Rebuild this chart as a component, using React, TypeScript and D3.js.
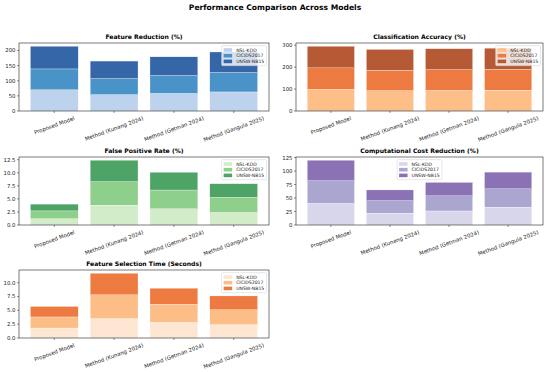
import React, { useEffect, useRef } from "react";
import * as d3 from "d3";

const models = ["Proposed Model", "Method (Kunang 2024)", "Method (Getman 2024)", "Method (Gangula 2025)"];
const datasets = ["NSL-KDD", "CICIDS2017", "UNSW-NB15"];

// values per dataset, in model order
const featReductionNSL = [70, 54, 58, 63];
const featReductionCIC = [69, 53, 59, 64];
const featReductionUNSW = [75, 58, 62, 68];

const accuracyNSL = [98.5, 92.5, 93.5, 95.0];
const accuracyCIC = [97.8, 93.0, 94.5, 95.0];
const accuracyUNSW = [98.5, 95.0, 95.5, 96.0];

const fprNSL = [1.2, 3.8, 3.1, 2.4];
const fprCIC = [1.5, 4.5, 3.6, 2.9];
const fprUNSW = [1.3, 4.1, 3.4, 2.6];

const costNSL = [40, 22, 26, 33];
const costCIC = [42, 23, 28, 34];
const costUNSW = [38, 20, 25, 31];

const fstNSL = [1.8, 3.5, 2.8, 2.4];
const fstCIC = [2.0, 4.3, 3.3, 2.7];
const fstUNSW = [1.9, 3.9, 2.9, 2.5];

const featReductionTicks = [0, 50, 100, 150, 200];
const accuracyTicks = [0, 100, 200, 300];
const fprTicks = [0, 2.5, 5, 7.5, 10, 12.5];
const costTicks = [0, 25, 50, 75, 100, 125];
const fstTicks = [0, 2.5, 5, 7.5, 10];

const panels = [
  { title: "Feature Reduction (%)", series: [featReductionNSL, featReductionCIC, featReductionUNSW], ticks: featReductionTicks, fmt: "d", colors: ["#bdd2ec", "#4a93c8", "#3466a8"], legend: "right" },
  { title: "Classification Accuracy (%)", series: [accuracyNSL, accuracyCIC, accuracyUNSW], ticks: accuracyTicks, fmt: "d", colors: ["#fdbe88", "#ec7a41", "#b65a35"], legend: "right" },
  { title: "False Positive Rate (%)", series: [fprNSL, fprCIC, fprUNSW], ticks: fprTicks, fmt: ".1f", colors: ["#d2ecca", "#8fcf8c", "#4ea466"], legend: "right" },
  { title: "Computational Cost Reduction (%)", series: [costNSL, costCIC, costUNSW], ticks: costTicks, fmt: "d", colors: ["#d8d6ea", "#aaa6d0", "#8a72b5"], legend: "center" },
  { title: "Feature Selection Time (Seconds)", series: [fstNSL, fstCIC, fstUNSW], ticks: fstTicks, fmt: ".1f", colors: ["#fde6d2", "#fdbd86", "#ec7a41"], legend: "right" },
];

const colsX = [[19, 269], [296, 543]];
const rowsY = [[43, 111], [157, 225], [270, 338]];
const FONT = "DejaVu Sans";
const ROT = 20;

export default function App() {
  const ref = useRef<SVGSVGElement>(null);

  useEffect(() => {
    const svg = d3.select(ref.current);
    svg.selectAll("*").remove();

    svg.append("text")
      .attr("x", 275).attr("y", 10)
      .attr("text-anchor", "middle")
      .attr("font-family", FONT).attr("font-weight", "bold").attr("font-size", 7.6)
      .text("Performance Comparison Across Models");

    panels.forEach((p, i) => {
      const [x0, x1] = colsX[i % 2];
      const [y0, y1] = rowsY[Math.floor(i / 2)];
      const table = models.map((m, j) => {
        const row: any = { model: m };
        datasets.forEach((ds, k) => (row[ds] = p.series[k][j]));
        return row;
      });
      const stacked = d3.stack().keys(datasets)(table);
      const maxTotal = d3.max(stacked[stacked.length - 1], (d) => d[1]) as number;

      const x = d3.scaleLinear().domain([-0.59, 3.59]).range([x0, x1]);
      const y = d3.scaleLinear().domain([0, maxTotal * 1.05]).range([y1, y0]);
      const bw = x(0.4) - x(-0.4);
      const g = svg.append("g");

      stacked.forEach((layer, k) => {
        g.selectAll(null).data(layer).join("rect")
          .attr("x", (d, j) => x(j) - bw / 2)
          .attr("width", bw)
          .attr("y", (d) => y(d[1]))
          .attr("height", (d) => y(d[0]) - y(d[1]))
          .attr("fill", p.colors[k])
          .attr("stroke", "#fff").attr("stroke-width", 0.3);
      });

      g.append("rect")
        .attr("x", x0).attr("y", y0).attr("width", x1 - x0).attr("height", y1 - y0)
        .attr("fill", "none").attr("stroke", "#222").attr("stroke-width", 0.6);

      const f = d3.format(p.fmt);
      p.ticks.forEach((t) => {
        g.append("line").attr("x1", x0 - 2).attr("x2", x0).attr("y1", y(t)).attr("y2", y(t))
          .attr("stroke", "#222").attr("stroke-width", 0.5);
        g.append("text").attr("x", x0 - 3.5).attr("y", y(t))
          .attr("text-anchor", "end").attr("dominant-baseline", "central")
          .attr("font-family", FONT).attr("font-size", 5.4).attr("fill", "#222")
          .text(f(t));
      });

      const rad = (ROT * Math.PI) / 180;
      models.forEach((m, j) => {
        g.append("line").attr("x1", x(j)).attr("x2", x(j)).attr("y1", y1).attr("y2", y1 + 2)
          .attr("stroke", "#222").attr("stroke-width", 0.5);
        const t = g.append("text")
          .attr("text-anchor", "middle").attr("dominant-baseline", "central")
          .attr("font-family", FONT).attr("font-size", 5.4).attr("fill", "#222")
          .text(m);
        const L = (t.node() as SVGTextElement).getComputedTextLength();
        const H = L * Math.sin(rad) + 5.4 * 1.16 * Math.cos(rad);
        const cy = y1 + 4 + H / 2;
        t.attr("x", x(j)).attr("y", cy).attr("transform", `rotate(${-ROT},${x(j)},${cy})`);
      });

      g.append("text")
        .attr("x", (x0 + x1) / 2).attr("y", y0 - 3.6)
        .attr("text-anchor", "middle")
        .attr("font-family", FONT).attr("font-weight", "bold").attr("font-size", 6.1)
        .text(p.title);

      // legend
      const lg = g.append("g");
      const box = lg.append("rect");
      let maxW = 0;
      const labels = datasets.map((ds) => {
        const tt = lg.append("text")
          .attr("dominant-baseline", "central")
          .attr("font-family", FONT).attr("font-size", 4.6).attr("fill", "#222")
          .text(ds);
        maxW = Math.max(maxW, (tt.node() as SVGTextElement).getComputedTextLength());
        return tt;
      });
      const lw = 2 + 8.5 + 4 + maxW + 2.2;
      const lh = 20;
      const lx = p.legend === "center" ? (x0 + x1) / 2 - lw / 2 : x1 - 2.5 - lw;
      const ly = y0 + 2.7;
      box.attr("x", lx).attr("y", ly).attr("width", lw).attr("height", lh).attr("rx", 1)
        .attr("fill", "#fff").attr("fill-opacity", 0.8).attr("stroke", "#d0d0d0").attr("stroke-width", 0.5);
      labels.forEach((tt, k) => {
        const cy = ly + 4.3 + k * 5.7;
        lg.append("rect").attr("x", lx + 2).attr("y", cy - 1.8).attr("width", 8.5).attr("height", 3.6)
          .attr("fill", p.colors[k]);
        tt.attr("x", lx + 2 + 8.5 + 4).attr("y", cy);
      });
    });
  }, []);

  return (
    <svg ref={ref} width={550} height={372}
      style={{ position: "absolute", left: 0, top: 0, background: "#fff" }} />
  );
}
